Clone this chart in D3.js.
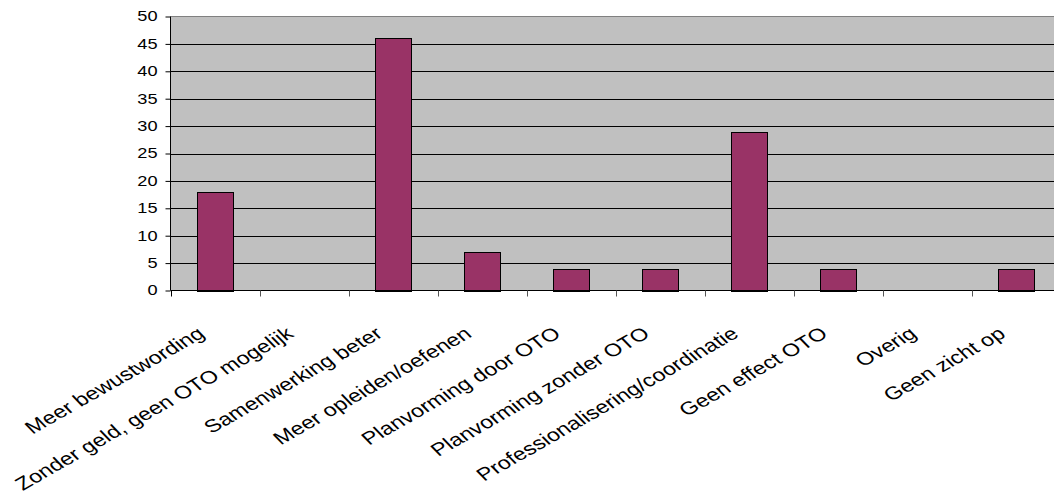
<!DOCTYPE html>
<html>
<head>
<meta charset="utf-8">
<script src="https://cdn.jsdelivr.net/npm/d3@7"></script>
<style>
  html, body { margin: 0; padding: 0; background: #fff; }
  svg { display: block; font-family: Arial, "Liberation Sans", sans-serif; }
</style>
</head>
<body>
<svg id="chart" width="1054" height="493"></svg>
<script>
"use strict";

var categories = [
  "Meer bewustwording",
  "Zonder geld, geen OTO mogelijk",
  "Samenwerking beter",
  "Meer opleiden/oefenen",
  "Planvorming door OTO",
  "Planvorming zonder OTO",
  "Professionalisering/coordinatie",
  "Geen effect OTO",
  "Overig",
  "Geen zicht op"
];
var values = [18, 0, 46, 7, 4, 4, 29, 4, 0, 4];
var yTicks = [0, 5, 10, 15, 20, 25, 30, 35, 40, 45, 50];

var PLOT_LEFT = 170.5;
var PLOT_RIGHT = 1060.5;
var PLOT_TOP = 16.5;
var PLOT_BOTTOM = 290.5;
var BAR_FRACTION = 0.4;
// the picture is stretched sideways, so text is too
var STRETCH = 1.3;
var LABEL_ANGLE = -36.5;

var svg = d3.select("#chart");

var x = d3.scaleBand().domain(categories).range([PLOT_LEFT, PLOT_RIGHT]).padding(0);
var y = d3.scaleLinear().domain([0, 50]).range([PLOT_BOTTOM, PLOT_TOP]);

// plot background
svg.append("rect")
  .attr("x", PLOT_LEFT)
  .attr("y", PLOT_TOP)
  .attr("width", PLOT_RIGHT - PLOT_LEFT)
  .attr("height", PLOT_BOTTOM - PLOT_TOP)
  .attr("fill", "#c0c0c0");

// top border
svg.append("line")
  .attr("x1", PLOT_LEFT).attr("x2", PLOT_RIGHT)
  .attr("y1", y(50)).attr("y2", y(50))
  .attr("stroke", "#808080");

// gridlines
svg.append("g")
  .selectAll("line")
  .data(yTicks.filter(function (d) { return d > 0 && d < 50; }))
  .enter()
  .append("line")
  .attr("x1", PLOT_LEFT).attr("x2", PLOT_RIGHT)
  .attr("y1", function (d) { return Math.round(y(d)) + 0.5; })
  .attr("y2", function (d) { return Math.round(y(d)) + 0.5; })
  .attr("stroke", "#000")
  .attr("stroke-width", 1);

// bars
var barW = x.bandwidth() * BAR_FRACTION;
svg.append("g")
  .selectAll("rect")
  .data(values)
  .enter()
  .append("rect")
  .attr("x", function (d, i) { return Math.round(x(categories[i]) + (x.bandwidth() - barW) / 2) + 0.5; })
  .attr("y", function (d) { return Math.round(y(d)) + 0.5; })
  .attr("width", Math.round(barW))
  .attr("height", function (d) { return Math.round(y(0)) - Math.round(y(d)); })
  .attr("fill", "#993366")
  .attr("stroke", "#000")
  .attr("stroke-width", 1)
  .style("display", function (d) { return d > 0 ? null : "none"; });

// y axis
var yAxis = d3.axisLeft(y).tickValues(yTicks).tickSize(5);
var yg = svg.append("g")
  .attr("transform", "translate(" + PLOT_LEFT + ",0)")
  .call(yAxis);
yg.select(".domain").attr("stroke", "#000").attr("d", "M0," + PLOT_TOP + "V" + PLOT_BOTTOM);
yg.selectAll(".tick line").attr("stroke", "#000");
yg.selectAll(".tick text")
  .attr("x", 0)
  .attr("transform", "translate(-13,0) scale(" + STRETCH + ",1)")
  .attr("font-size", "14px")
  .attr("fill", "#000")
  .attr("font-family", "Arial, 'Liberation Sans', sans-serif");

// x axis
var boundaries = categories.map(function (c) { return x(c); }).concat([PLOT_RIGHT]);
var xg = svg.append("g");
xg.append("line")
  .attr("x1", PLOT_LEFT).attr("x2", PLOT_RIGHT)
  .attr("y1", PLOT_BOTTOM).attr("y2", PLOT_BOTTOM)
  .attr("stroke", "#000");
xg.selectAll("line.tick")
  .data(boundaries)
  .enter()
  .append("line")
  .attr("class", "tick")
  .attr("x1", function (d) { return Math.round(d) + 0.5; })
  .attr("x2", function (d) { return Math.round(d) + 0.5; })
  .attr("y1", PLOT_BOTTOM).attr("y2", PLOT_BOTTOM + 6)
  .attr("stroke", function (d, i) { return i === 0 ? "#000" : "#555"; });

// category labels
xg.selectAll("text")
  .data(categories)
  .enter()
  .append("text")
  .attr("transform", function (d) {
    var cx = x(d) + x.bandwidth() / 2;
    return "translate(" + (cx - 9) + ",336) scale(" + STRETCH + ",1) rotate(" + LABEL_ANGLE + ")";
  })
  .attr("text-anchor", "end")
  .attr("font-size", "18px")
  .attr("fill", "#000")
  .text(function (d) { return d; });
</script>
</body>
</html>
